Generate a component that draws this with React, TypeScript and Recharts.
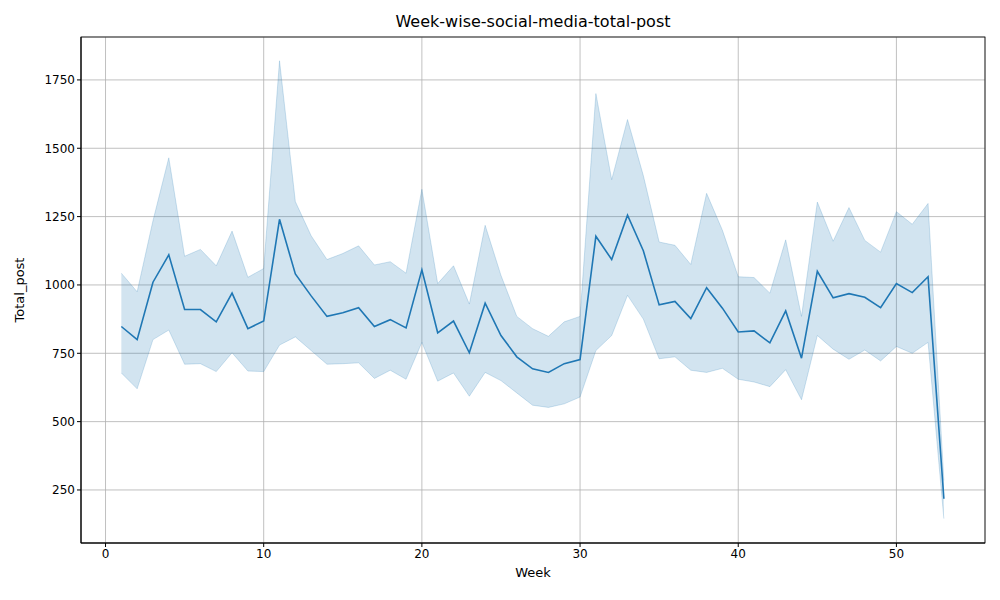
import React from "react";
import { ComposedChart, Area, Line, XAxis, YAxis, CartesianGrid, Label } from "recharts";

const weeks = Array.from({ length: 53 }, (_, i) => i + 1);
const meanPosts = [848,800,1010,1110,910,910,865,970,840,868,1240,1040,960,885,898,917,848,873,843,1055,825,868,752,933,815,737,693,680,712,727,1178,1093,1255,1125,927,940,877,990,915,828,832,788,905,732,1050,953,968,955,917,1005,972,1030,218];
const upperCI = [1043,975,1235,1465,1105,1130,1070,1197,1028,1060,1820,1305,1180,1093,1115,1143,1073,1085,1043,1350,1005,1070,930,1218,1035,885,840,812,865,885,1700,1385,1605,1400,1157,1145,1075,1335,1200,1030,1027,970,1165,885,1303,1160,1283,1163,1120,1268,1222,1298,285];
const lowerCI = [678,620,800,835,710,712,683,752,685,683,780,810,760,710,712,715,658,688,655,790,648,678,593,680,650,605,560,552,565,590,760,815,962,875,730,737,688,680,695,655,645,628,690,580,815,765,728,762,722,775,750,790,145];
const xTicks = [0, 10, 20, 30, 40, 50];
const yTicks = [250, 500, 750, 1000, 1250, 1500, 1750];

const data = weeks.map((w, i) => ({ week: w, mean: meanPosts[i], band: [lowerCI[i], upperCI[i]] }));
const font = "DejaVu Sans, sans-serif";

export default function App() {
  return (
    <div style={{ position: "relative", margin: -8, width: 1000, height: 600, background: "#fff", fontFamily: font }}>
      <div style={{ position: "absolute", top: 12, left: 81, width: 904, textAlign: "center", fontSize: 16, color: "#000" }}>
        Week-wise-social-media-total-post
      </div>
      <ComposedChart width={1000} height={600} data={data} margin={{ top: 37, right: 15, bottom: 27, left: 21 }}>
        <CartesianGrid stroke="#b0b0b0" strokeWidth={0.8} />
        <XAxis dataKey="week" type="number" domain={[-1.55, 55.6]} ticks={xTicks} height={30}
          tick={{ fill: "#000", fontSize: 12, fontFamily: font }} tickLine={{ stroke: "#000" }} axisLine={{ stroke: "#000" }} tickSize={4} allowDataOverflow>
          <Label value="Week" position="insideBottom" offset={-4} style={{ fill: "#000", fontSize: 13, fontFamily: font }} />
        </XAxis>
        <YAxis type="number" domain={[56, 1907]} ticks={yTicks} width={60} allowDataOverflow
          tick={{ fill: "#000", fontSize: 12, fontFamily: font }} tickLine={{ stroke: "#000" }} axisLine={{ stroke: "#000" }} tickSize={4}>
          <Label value="Total_post" angle={-90} position="insideLeft" offset={-2} style={{ fill: "#000", fontSize: 13, fontFamily: font, textAnchor: "middle" }} />
        </YAxis>
        <Area dataKey="band" stroke="#1f77b4" strokeOpacity={0.2} fill="#1f77b4" fillOpacity={0.2} isAnimationActive={false} type="linear" />
        <Line dataKey="mean" stroke="#1f77b4" strokeWidth={1.6} dot={false} isAnimationActive={false} type="linear" />
        <rect x={81} y={37} width={904} height={506} fill="none" stroke="#000" strokeWidth={0.8} />
      </ComposedChart>
    </div>
  );
}
